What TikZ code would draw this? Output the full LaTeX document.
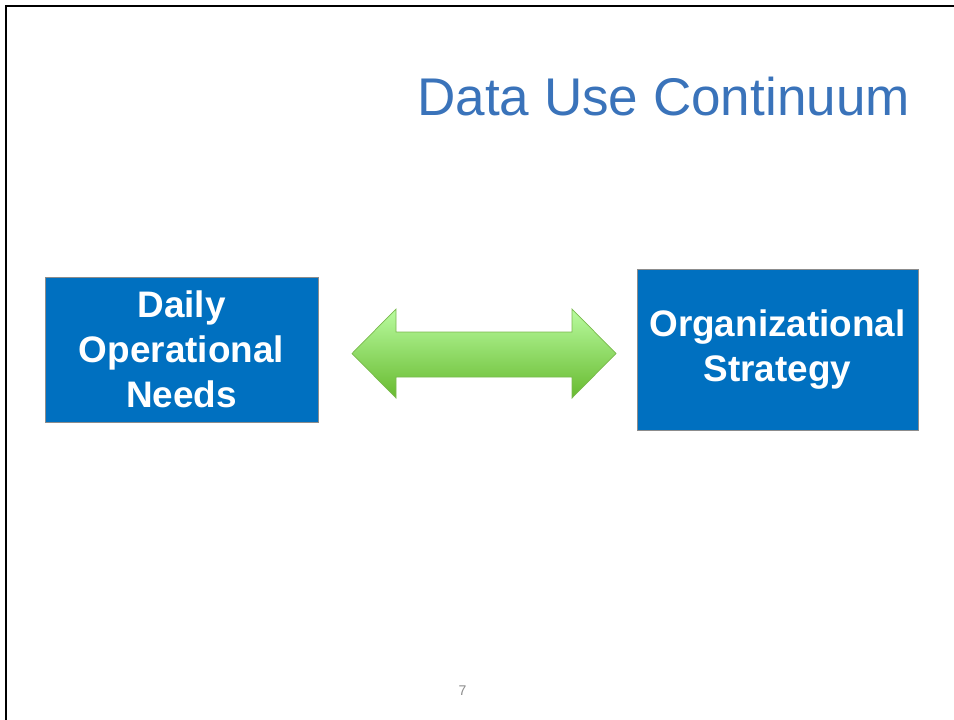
\documentclass[tikz,border=0pt]{standalone}
\usepackage{fontspec}
\setmainfont{Liberation Sans}
\usepackage{tikz}
\usetikzlibrary{positioning, calc, shadings}
\definecolor{slideblue}{HTML}{0070C0}
\definecolor{titleblue}{HTML}{3A73BA}
\definecolor{arrowtop}{HTML}{B9FB9F}
\definecolor{arrowmid}{HTML}{A2EA86}
\definecolor{arrowbottom}{HTML}{67BA2F}
\definecolor{arrowedge}{HTML}{7AB94E}

\begin{document}
\begin{tikzpicture}[x=0.03cm, y=-0.03cm,
  boxnode/.style={fill=slideblue, draw=black!45, line width=0.6pt, text=white,
    font=\fontsize{31.5}{38.5}\selectfont\bfseries, align=center, inner sep=0pt}]
  \def\px{0.03cm}
  \useasboundingbox (0,0) rectangle (954,719);

  % Slide frame
  \draw[line width=1.5pt] (6,730) -- (6,6) -- (960,6);

  % Title
  \node[font=\fontsize{45.3}{54}\selectfont, text=titleblue, anchor=base west, inner sep=0pt] (title) at (417,115) {Data Use Continuum};

  % Boxes
  \node[boxnode, minimum width=273*\px, minimum height=145*\px] (daily) at (181.5,349.5) {Daily\\Operational\\Needs};
  \node[boxnode, minimum width=281*\px, minimum height=161*\px] (strategy) at (777.5,349.5) {Organizational\\Strategy};

  % Double arrow
  \shade[top color=arrowtop, middle color=arrowmid, bottom color=arrowbottom, draw=arrowedge, line width=0.6pt]
    (352,353.5) -- (396,309) -- (396,332) -- (572,332) -- (572,309) -- (616,353.5)
    -- (572,398) -- (572,377) -- (396,377) -- (396,398) -- cycle;

  % Page number
  \node[font=\fontsize{12}{14}\selectfont, text=black!45, anchor=base] (pagenum) at (462.5,695) {7};
\end{tikzpicture}
\end{document}
